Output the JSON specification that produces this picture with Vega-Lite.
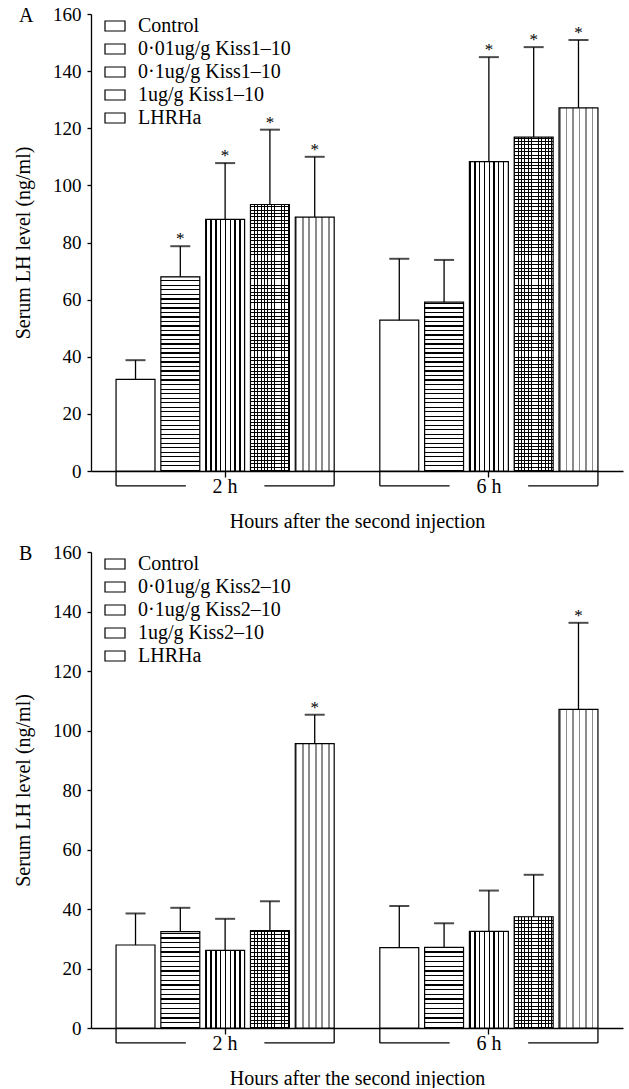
{
"$schema": "https://vega.github.io/schema/vega-lite/v6.json",
"padding": {"left": 13, "top": 5, "right": 5, "bottom": 0},
"params": [{"name": "stripes", "value": [
{"offset":0,"color":"#000"},{"offset":0.0028,"color":"#000"},{"offset":0.0028,"color":"transparent"},{"offset":0.01,"color":"transparent"},
{"offset":0.01,"color":"#000"},{"offset":0.0128,"color":"#000"},{"offset":0.0128,"color":"transparent"},{"offset":0.02,"color":"transparent"},
{"offset":0.02,"color":"#000"},{"offset":0.0228,"color":"#000"},{"offset":0.0228,"color":"transparent"},{"offset":0.03,"color":"transparent"},
{"offset":0.03,"color":"#000"},{"offset":0.0328,"color":"#000"},{"offset":0.0328,"color":"transparent"},{"offset":0.04,"color":"transparent"},
{"offset":0.04,"color":"#000"},{"offset":0.0428,"color":"#000"},{"offset":0.0428,"color":"transparent"},{"offset":0.05,"color":"transparent"},
{"offset":0.05,"color":"#000"},{"offset":0.0528,"color":"#000"},{"offset":0.0528,"color":"transparent"},{"offset":0.06,"color":"transparent"},
{"offset":0.06,"color":"#000"},{"offset":0.0628,"color":"#000"},{"offset":0.0628,"color":"transparent"},{"offset":0.07,"color":"transparent"},
{"offset":0.07,"color":"#000"},{"offset":0.0728,"color":"#000"},{"offset":0.0728,"color":"transparent"},{"offset":0.08,"color":"transparent"},
{"offset":0.08,"color":"#000"},{"offset":0.0828,"color":"#000"},{"offset":0.0828,"color":"transparent"},{"offset":0.09,"color":"transparent"},
{"offset":0.09,"color":"#000"},{"offset":0.0928,"color":"#000"},{"offset":0.0928,"color":"transparent"},{"offset":0.10,"color":"transparent"},
{"offset":0.10,"color":"#000"},{"offset":0.1028,"color":"#000"},{"offset":0.1028,"color":"transparent"},{"offset":0.11,"color":"transparent"},
{"offset":0.11,"color":"#000"},{"offset":0.1128,"color":"#000"},{"offset":0.1128,"color":"transparent"},{"offset":0.12,"color":"transparent"},
{"offset":0.12,"color":"#000"},{"offset":0.1228,"color":"#000"},{"offset":0.1228,"color":"transparent"},{"offset":0.13,"color":"transparent"},
{"offset":0.13,"color":"#000"},{"offset":0.1328,"color":"#000"},{"offset":0.1328,"color":"transparent"},{"offset":0.14,"color":"transparent"},
{"offset":0.14,"color":"#000"},{"offset":0.1428,"color":"#000"},{"offset":0.1428,"color":"transparent"},{"offset":0.15,"color":"transparent"},
{"offset":0.15,"color":"#000"},{"offset":0.1528,"color":"#000"},{"offset":0.1528,"color":"transparent"},{"offset":0.16,"color":"transparent"},
{"offset":0.16,"color":"#000"},{"offset":0.1628,"color":"#000"},{"offset":0.1628,"color":"transparent"},{"offset":0.17,"color":"transparent"},
{"offset":0.17,"color":"#000"},{"offset":0.1728,"color":"#000"},{"offset":0.1728,"color":"transparent"},{"offset":0.18,"color":"transparent"},
{"offset":0.18,"color":"#000"},{"offset":0.1828,"color":"#000"},{"offset":0.1828,"color":"transparent"},{"offset":0.19,"color":"transparent"},
{"offset":0.19,"color":"#000"},{"offset":0.1928,"color":"#000"},{"offset":0.1928,"color":"transparent"},{"offset":0.20,"color":"transparent"},
{"offset":0.20,"color":"#000"},{"offset":0.2028,"color":"#000"},{"offset":0.2028,"color":"transparent"},{"offset":0.21,"color":"transparent"},
{"offset":0.21,"color":"#000"},{"offset":0.2128,"color":"#000"},{"offset":0.2128,"color":"transparent"},{"offset":0.22,"color":"transparent"},
{"offset":0.22,"color":"#000"},{"offset":0.2228,"color":"#000"},{"offset":0.2228,"color":"transparent"},{"offset":0.23,"color":"transparent"},
{"offset":0.23,"color":"#000"},{"offset":0.2328,"color":"#000"},{"offset":0.2328,"color":"transparent"},{"offset":0.24,"color":"transparent"},
{"offset":0.24,"color":"#000"},{"offset":0.2428,"color":"#000"},{"offset":0.2428,"color":"transparent"},{"offset":0.25,"color":"transparent"},
{"offset":0.25,"color":"#000"},{"offset":0.2528,"color":"#000"},{"offset":0.2528,"color":"transparent"},{"offset":0.26,"color":"transparent"},
{"offset":0.26,"color":"#000"},{"offset":0.2628,"color":"#000"},{"offset":0.2628,"color":"transparent"},{"offset":0.27,"color":"transparent"},
{"offset":0.27,"color":"#000"},{"offset":0.2728,"color":"#000"},{"offset":0.2728,"color":"transparent"},{"offset":0.28,"color":"transparent"},
{"offset":0.28,"color":"#000"},{"offset":0.2828,"color":"#000"},{"offset":0.2828,"color":"transparent"},{"offset":0.29,"color":"transparent"},
{"offset":0.29,"color":"#000"},{"offset":0.2928,"color":"#000"},{"offset":0.2928,"color":"transparent"},{"offset":0.30,"color":"transparent"},
{"offset":0.30,"color":"#000"},{"offset":0.3028,"color":"#000"},{"offset":0.3028,"color":"transparent"},{"offset":0.31,"color":"transparent"},
{"offset":0.31,"color":"#000"},{"offset":0.3128,"color":"#000"},{"offset":0.3128,"color":"transparent"},{"offset":0.32,"color":"transparent"},
{"offset":0.32,"color":"#000"},{"offset":0.3228,"color":"#000"},{"offset":0.3228,"color":"transparent"},{"offset":0.33,"color":"transparent"},
{"offset":0.33,"color":"#000"},{"offset":0.3328,"color":"#000"},{"offset":0.3328,"color":"transparent"},{"offset":0.34,"color":"transparent"},
{"offset":0.34,"color":"#000"},{"offset":0.3428,"color":"#000"},{"offset":0.3428,"color":"transparent"},{"offset":0.35,"color":"transparent"},
{"offset":0.35,"color":"#000"},{"offset":0.3528,"color":"#000"},{"offset":0.3528,"color":"transparent"},{"offset":0.36,"color":"transparent"},
{"offset":0.36,"color":"#000"},{"offset":0.3628,"color":"#000"},{"offset":0.3628,"color":"transparent"},{"offset":0.37,"color":"transparent"},
{"offset":0.37,"color":"#000"},{"offset":0.3728,"color":"#000"},{"offset":0.3728,"color":"transparent"},{"offset":0.38,"color":"transparent"},
{"offset":0.38,"color":"#000"},{"offset":0.3828,"color":"#000"},{"offset":0.3828,"color":"transparent"},{"offset":0.39,"color":"transparent"},
{"offset":0.39,"color":"#000"},{"offset":0.3928,"color":"#000"},{"offset":0.3928,"color":"transparent"},{"offset":0.40,"color":"transparent"},
{"offset":0.40,"color":"#000"},{"offset":0.4028,"color":"#000"},{"offset":0.4028,"color":"transparent"},{"offset":0.41,"color":"transparent"},
{"offset":0.41,"color":"#000"},{"offset":0.4128,"color":"#000"},{"offset":0.4128,"color":"transparent"},{"offset":0.42,"color":"transparent"},
{"offset":0.42,"color":"#000"},{"offset":0.4228,"color":"#000"},{"offset":0.4228,"color":"transparent"},{"offset":0.43,"color":"transparent"},
{"offset":0.43,"color":"#000"},{"offset":0.4328,"color":"#000"},{"offset":0.4328,"color":"transparent"},{"offset":0.44,"color":"transparent"},
{"offset":0.44,"color":"#000"},{"offset":0.4428,"color":"#000"},{"offset":0.4428,"color":"transparent"},{"offset":0.45,"color":"transparent"},
{"offset":0.45,"color":"#000"},{"offset":0.4528,"color":"#000"},{"offset":0.4528,"color":"transparent"},{"offset":0.46,"color":"transparent"},
{"offset":0.46,"color":"#000"},{"offset":0.4628,"color":"#000"},{"offset":0.4628,"color":"transparent"},{"offset":0.47,"color":"transparent"},
{"offset":0.47,"color":"#000"},{"offset":0.4728,"color":"#000"},{"offset":0.4728,"color":"transparent"},{"offset":0.48,"color":"transparent"},
{"offset":0.48,"color":"#000"},{"offset":0.4828,"color":"#000"},{"offset":0.4828,"color":"transparent"},{"offset":0.49,"color":"transparent"},
{"offset":0.49,"color":"#000"},{"offset":0.4928,"color":"#000"},{"offset":0.4928,"color":"transparent"},{"offset":0.50,"color":"transparent"},
{"offset":0.50,"color":"#000"},{"offset":0.5028,"color":"#000"},{"offset":0.5028,"color":"transparent"},{"offset":0.51,"color":"transparent"},
{"offset":0.51,"color":"#000"},{"offset":0.5128,"color":"#000"},{"offset":0.5128,"color":"transparent"},{"offset":0.52,"color":"transparent"},
{"offset":0.52,"color":"#000"},{"offset":0.5228,"color":"#000"},{"offset":0.5228,"color":"transparent"},{"offset":0.53,"color":"transparent"},
{"offset":0.53,"color":"#000"},{"offset":0.5328,"color":"#000"},{"offset":0.5328,"color":"transparent"},{"offset":0.54,"color":"transparent"},
{"offset":0.54,"color":"#000"},{"offset":0.5428,"color":"#000"},{"offset":0.5428,"color":"transparent"},{"offset":0.55,"color":"transparent"},
{"offset":0.55,"color":"#000"},{"offset":0.5528,"color":"#000"},{"offset":0.5528,"color":"transparent"},{"offset":0.56,"color":"transparent"},
{"offset":0.56,"color":"#000"},{"offset":0.5628,"color":"#000"},{"offset":0.5628,"color":"transparent"},{"offset":0.57,"color":"transparent"},
{"offset":0.57,"color":"#000"},{"offset":0.5728,"color":"#000"},{"offset":0.5728,"color":"transparent"},{"offset":0.58,"color":"transparent"},
{"offset":0.58,"color":"#000"},{"offset":0.5828,"color":"#000"},{"offset":0.5828,"color":"transparent"},{"offset":0.59,"color":"transparent"},
{"offset":0.59,"color":"#000"},{"offset":0.5928,"color":"#000"},{"offset":0.5928,"color":"transparent"},{"offset":0.60,"color":"transparent"},
{"offset":0.60,"color":"#000"},{"offset":0.6028,"color":"#000"},{"offset":0.6028,"color":"transparent"},{"offset":0.61,"color":"transparent"},
{"offset":0.61,"color":"#000"},{"offset":0.6128,"color":"#000"},{"offset":0.6128,"color":"transparent"},{"offset":0.62,"color":"transparent"},
{"offset":0.62,"color":"#000"},{"offset":0.6228,"color":"#000"},{"offset":0.6228,"color":"transparent"},{"offset":0.63,"color":"transparent"},
{"offset":0.63,"color":"#000"},{"offset":0.6328,"color":"#000"},{"offset":0.6328,"color":"transparent"},{"offset":0.64,"color":"transparent"},
{"offset":0.64,"color":"#000"},{"offset":0.6428,"color":"#000"},{"offset":0.6428,"color":"transparent"},{"offset":0.65,"color":"transparent"},
{"offset":0.65,"color":"#000"},{"offset":0.6528,"color":"#000"},{"offset":0.6528,"color":"transparent"},{"offset":0.66,"color":"transparent"},
{"offset":0.66,"color":"#000"},{"offset":0.6628,"color":"#000"},{"offset":0.6628,"color":"transparent"},{"offset":0.67,"color":"transparent"},
{"offset":0.67,"color":"#000"},{"offset":0.6728,"color":"#000"},{"offset":0.6728,"color":"transparent"},{"offset":0.68,"color":"transparent"},
{"offset":0.68,"color":"#000"},{"offset":0.6828,"color":"#000"},{"offset":0.6828,"color":"transparent"},{"offset":0.69,"color":"transparent"},
{"offset":0.69,"color":"#000"},{"offset":0.6928,"color":"#000"},{"offset":0.6928,"color":"transparent"},{"offset":0.70,"color":"transparent"},
{"offset":0.70,"color":"#000"},{"offset":0.7028,"color":"#000"},{"offset":0.7028,"color":"transparent"},{"offset":0.71,"color":"transparent"},
{"offset":0.71,"color":"#000"},{"offset":0.7128,"color":"#000"},{"offset":0.7128,"color":"transparent"},{"offset":0.72,"color":"transparent"},
{"offset":0.72,"color":"#000"},{"offset":0.7228,"color":"#000"},{"offset":0.7228,"color":"transparent"},{"offset":0.73,"color":"transparent"},
{"offset":0.73,"color":"#000"},{"offset":0.7328,"color":"#000"},{"offset":0.7328,"color":"transparent"},{"offset":0.74,"color":"transparent"},
{"offset":0.74,"color":"#000"},{"offset":0.7428,"color":"#000"},{"offset":0.7428,"color":"transparent"},{"offset":0.75,"color":"transparent"},
{"offset":0.75,"color":"#000"},{"offset":0.7528,"color":"#000"},{"offset":0.7528,"color":"transparent"},{"offset":0.76,"color":"transparent"},
{"offset":0.76,"color":"#000"},{"offset":0.7628,"color":"#000"},{"offset":0.7628,"color":"transparent"},{"offset":0.77,"color":"transparent"},
{"offset":0.77,"color":"#000"},{"offset":0.7728,"color":"#000"},{"offset":0.7728,"color":"transparent"},{"offset":0.78,"color":"transparent"},
{"offset":0.78,"color":"#000"},{"offset":0.7828,"color":"#000"},{"offset":0.7828,"color":"transparent"},{"offset":0.79,"color":"transparent"},
{"offset":0.79,"color":"#000"},{"offset":0.7928,"color":"#000"},{"offset":0.7928,"color":"transparent"},{"offset":0.80,"color":"transparent"},
{"offset":0.80,"color":"#000"},{"offset":0.8028,"color":"#000"},{"offset":0.8028,"color":"transparent"},{"offset":0.81,"color":"transparent"},
{"offset":0.81,"color":"#000"},{"offset":0.8128,"color":"#000"},{"offset":0.8128,"color":"transparent"},{"offset":0.82,"color":"transparent"},
{"offset":0.82,"color":"#000"},{"offset":0.8228,"color":"#000"},{"offset":0.8228,"color":"transparent"},{"offset":0.83,"color":"transparent"},
{"offset":0.83,"color":"#000"},{"offset":0.8328,"color":"#000"},{"offset":0.8328,"color":"transparent"},{"offset":0.84,"color":"transparent"},
{"offset":0.84,"color":"#000"},{"offset":0.8428,"color":"#000"},{"offset":0.8428,"color":"transparent"},{"offset":0.85,"color":"transparent"},
{"offset":0.85,"color":"#000"},{"offset":0.8528,"color":"#000"},{"offset":0.8528,"color":"transparent"},{"offset":0.86,"color":"transparent"},
{"offset":0.86,"color":"#000"},{"offset":0.8628,"color":"#000"},{"offset":0.8628,"color":"transparent"},{"offset":0.87,"color":"transparent"},
{"offset":0.87,"color":"#000"},{"offset":0.8728,"color":"#000"},{"offset":0.8728,"color":"transparent"},{"offset":0.88,"color":"transparent"},
{"offset":0.88,"color":"#000"},{"offset":0.8828,"color":"#000"},{"offset":0.8828,"color":"transparent"},{"offset":0.89,"color":"transparent"},
{"offset":0.89,"color":"#000"},{"offset":0.8928,"color":"#000"},{"offset":0.8928,"color":"transparent"},{"offset":0.90,"color":"transparent"},
{"offset":0.90,"color":"#000"},{"offset":0.9028,"color":"#000"},{"offset":0.9028,"color":"transparent"},{"offset":0.91,"color":"transparent"},
{"offset":0.91,"color":"#000"},{"offset":0.9128,"color":"#000"},{"offset":0.9128,"color":"transparent"},{"offset":0.92,"color":"transparent"},
{"offset":0.92,"color":"#000"},{"offset":0.9228,"color":"#000"},{"offset":0.9228,"color":"transparent"},{"offset":0.93,"color":"transparent"},
{"offset":0.93,"color":"#000"},{"offset":0.9328,"color":"#000"},{"offset":0.9328,"color":"transparent"},{"offset":0.94,"color":"transparent"},
{"offset":0.94,"color":"#000"},{"offset":0.9428,"color":"#000"},{"offset":0.9428,"color":"transparent"},{"offset":0.95,"color":"transparent"},
{"offset":0.95,"color":"#000"},{"offset":0.9528,"color":"#000"},{"offset":0.9528,"color":"transparent"},{"offset":0.96,"color":"transparent"},
{"offset":0.96,"color":"#000"},{"offset":0.9628,"color":"#000"},{"offset":0.9628,"color":"transparent"},{"offset":0.97,"color":"transparent"},
{"offset":0.97,"color":"#000"},{"offset":0.9728,"color":"#000"},{"offset":0.9728,"color":"transparent"},{"offset":0.98,"color":"transparent"},
{"offset":0.98,"color":"#000"},{"offset":0.9828,"color":"#000"},{"offset":0.9828,"color":"transparent"},{"offset":0.99,"color":"transparent"},
{"offset":0.99,"color":"#000"},{"offset":0.9928,"color":"#000"},{"offset":0.9928,"color":"transparent"},{"offset":1,"color":"transparent"}
]}],
"config": {
  "font": "Liberation Serif",
  "view": {"stroke": null},
  "axis": {"domainColor": "black", "domainWidth": 1.3, "tickColor": "black", "tickWidth": 1.3, "labelColor": "black", "titleColor": "black", "labelFont": "Liberation Serif", "titleFont": "Liberation Serif", "titleFontWeight": "normal", "grid": false},
  "legend": {"labelFont": "Liberation Serif", "labelColor": "black"},
  "title": {"font": "Liberation Serif", "fontWeight": "normal", "color": "black"}
},
"resolve": {"scale": {"stroke": "independent"}, "legend": {"stroke": "independent"}},
"spacing": 12,
"vconcat": [
{
  "width": 532, "height": 457,
  "title": {"text": "A", "anchor": "start", "frame": "group", "dx": -72, "offset": -21, "fontSize": 20},
  "data": {"values": [
    {"time": "2 h", "trt": "Control", "mean": 32.1, "upper": 38.8, "sig": false},
    {"time": "2 h", "trt": "0.01", "mean": 68.0, "upper": 78.7, "sig": true},
    {"time": "2 h", "trt": "0.1", "mean": 88.1, "upper": 107.8, "sig": true},
    {"time": "2 h", "trt": "1", "mean": 93.3, "upper": 119.5, "sig": true},
    {"time": "2 h", "trt": "LHRHa", "mean": 88.9, "upper": 110.0, "sig": true},
    {"time": "6 h", "trt": "Control", "mean": 52.8, "upper": 74.3, "sig": false},
    {"time": "6 h", "trt": "0.01", "mean": 59.1, "upper": 73.9, "sig": false},
    {"time": "6 h", "trt": "0.1", "mean": 108.3, "upper": 144.9, "sig": true},
    {"time": "6 h", "trt": "1", "mean": 116.9, "upper": 148.4, "sig": true},
    {"time": "6 h", "trt": "LHRHa", "mean": 127.1, "upper": 150.9, "sig": true}
  ]},
  "encoding": {
    "x": {"field": "time", "type": "nominal", "title": "Hours after the second injection",
          "scale": {"paddingInner": 0.173, "paddingOuter": 0.095},
          "axis": {"labelAngle": 0, "tickSize": 6, "labelPadding": -1, "labelFontSize": 20, "titleFontSize": 20, "titlePadding": 15}},
    "y": {"field": "mean", "type": "quantitative", "title": "Serum LH level (ng/ml)",
          "scale": {"domain": [0, 160], "nice": false},
          "axis": {"values": [0, 20, 40, 60, 80, 100, 120, 140, 160], "tickSize": 4, "labelPadding": 6, "labelFontSize": 19, "titleFontSize": 20, "titlePadding": 19}}
  },
  "layer": [
    {
      "encoding": {"xOffset": {"field": "trt", "type": "nominal", "scale": {"domain": ["Control", "0.01", "0.1", "1", "LHRHa"], "paddingInner": 0.131, "paddingOuter": 0}}},
      "layer": [
        {"mark": {"type": "bar", "fill": "white"}},
        {"mark": {"type": "bar", "fill": {"expr": "datum.trt==='0.01' ? {gradient:'linear',x1:0.5,x2:0.5,y1:1,y2:1-158/datum.mean,stops:stripes} : datum.trt==='1' ? {gradient:'linear',x1:0.5,x2:0.5,y1:1,y2:1-120/datum.mean,stops:stripes} : 'transparent'"}}},
        {"mark": {"type": "bar", "fill": {"expr": "datum.trt==='0.1' ? {gradient:'linear',x1:0,x2:12.3,y1:0.5,y2:0.5,stops:stripes} : datum.trt==='1' ? {gradient:'linear',x1:0,x2:8.7,y1:0.5,y2:0.5,stops:stripes} : datum.trt==='LHRHa' ? {gradient:'linear',x1:0,x2:16.7,y1:0.5,y2:0.5,stops:stripes} : 'transparent'"}, "fillOpacity": {"expr": "datum.trt==='LHRHa' ? 0.45 : 1"}}},
        {"mark": {"type": "bar", "fill": "transparent", "strokeWidth": 1.2},
         "encoding": {"stroke": {"field": "trt", "type": "nominal",
           "scale": {"domain": ["Control", "0.01", "0.1", "1", "LHRHa"], "range": ["black", "black", "black", "black", "black"]},
           "legend": {"title": null, "orient": "none", "legendX": 13, "legendY": 1, "symbolType": "M-1,-0.5H1V0.5H-1Z", "symbolSize": 400, "symbolStrokeWidth": 1.2, "symbolStrokeColor": "black", "labelFontSize": 20, "labelOffset": 12, "rowPadding": 2,
             "labelExpr": "datum.value==='0.01' ? '0·01ug/g Kiss1–10' : datum.value==='0.1' ? '0·1ug/g Kiss1–10' : datum.value==='1' ? '1ug/g Kiss1–10' : datum.value",
             "encode": {"symbols": {"update": {
               "fill": {"signal": "datum.value==='0.01' ? {gradient:'linear',x1:0.5,x2:0.5,y1:0,y2:25,stops:stripes} : datum.value==='0.1' ? {gradient:'linear',x1:0,x2:16,y1:0.5,y2:0.5,stops:stripes} : datum.value==='1' ? {gradient:'linear',x1:0,x2:10,y1:0.5,y2:0.5,stops:stripes} : datum.value==='LHRHa' ? {gradient:'linear',x1:0,x2:18,y1:0.5,y2:0.5,stops:stripes} : 'white'"},
               "fillOpacity": {"signal": "datum.value==='LHRHa' ? 0.45 : 1"},
               "stroke": {"value": "black"}}}}}}}},
        {"mark": {"type": "rule", "color": "black", "strokeWidth": 1.3}, "encoding": {"y2": {"field": "upper"}}},
        {"mark": {"type": "tick", "orient": "horizontal", "size": 20, "thickness": 2, "color": "black"},
         "encoding": {"y": {"field": "upper", "type": "quantitative", "title": "Serum LH level (ng/ml)"}}},
        {"transform": [{"filter": "datum.sig"}],
         "mark": {"type": "text", "text": "*", "baseline": "alphabetic", "dy": -2, "fontSize": 17, "color": "black"},
         "encoding": {"y": {"field": "upper", "type": "quantitative", "title": "Serum LH level (ng/ml)"}}}
      ]
    },
    {
      "transform": [{"filter": "datum.trt === 'Control'"}],
      "layer": [
        {"mark": {"type": "rule", "color": "black", "strokeWidth": 1.3, "clip": false},
         "encoding": {"x": {"field": "time", "type": "nominal", "bandPosition": 0}, "y": {"datum": 0, "type": "quantitative"}, "y2": {"datum": -5.2}}},
        {"mark": {"type": "rule", "color": "black", "strokeWidth": 1.3, "clip": false},
         "encoding": {"x": {"field": "time", "type": "nominal", "bandPosition": 1}, "y": {"datum": 0, "type": "quantitative"}, "y2": {"datum": -5.2}}},
        {"mark": {"type": "rule", "color": "black", "strokeWidth": 1.3, "clip": false},
         "encoding": {"x": {"field": "time", "type": "nominal", "bandPosition": 0}, "x2": {"field": "time", "bandPosition": 0.32}, "y": {"datum": -5.2, "type": "quantitative"}}},
        {"mark": {"type": "rule", "color": "black", "strokeWidth": 1.3, "clip": false},
         "encoding": {"x": {"field": "time", "type": "nominal", "bandPosition": 0.68}, "x2": {"field": "time", "bandPosition": 1}, "y": {"datum": -5.2, "type": "quantitative"}}}
      ]
    }
  ]
},
{
  "width": 532, "height": 476,
  "title": {"text": "B", "anchor": "start", "frame": "group", "dx": -72, "offset": -21, "fontSize": 20},
  "data": {"values": [
    {"time": "2 h", "trt": "Control", "mean": 27.9, "upper": 38.5, "sig": false},
    {"time": "2 h", "trt": "0.01", "mean": 32.4, "upper": 40.4, "sig": false},
    {"time": "2 h", "trt": "0.1", "mean": 26.1, "upper": 36.7, "sig": false},
    {"time": "2 h", "trt": "1", "mean": 32.7, "upper": 42.6, "sig": false},
    {"time": "2 h", "trt": "LHRHa", "mean": 95.6, "upper": 105.3, "sig": true},
    {"time": "6 h", "trt": "Control", "mean": 27.0, "upper": 41.0, "sig": false},
    {"time": "6 h", "trt": "0.01", "mean": 27.1, "upper": 35.2, "sig": false},
    {"time": "6 h", "trt": "0.1", "mean": 32.5, "upper": 46.2, "sig": false},
    {"time": "6 h", "trt": "1", "mean": 37.4, "upper": 51.5, "sig": false},
    {"time": "6 h", "trt": "LHRHa", "mean": 107.1, "upper": 136.2, "sig": true}
  ]},
  "encoding": {
    "x": {"field": "time", "type": "nominal", "title": "Hours after the second injection",
          "scale": {"paddingInner": 0.173, "paddingOuter": 0.095},
          "axis": {"labelAngle": 0, "tickSize": 6, "labelPadding": -1, "labelFontSize": 20, "titleFontSize": 20, "titlePadding": 15}},
    "y": {"field": "mean", "type": "quantitative", "title": "Serum LH level (ng/ml)",
          "scale": {"domain": [0, 160], "nice": false},
          "axis": {"values": [0, 20, 40, 60, 80, 100, 120, 140, 160], "tickSize": 4, "labelPadding": 6, "labelFontSize": 19, "titleFontSize": 20, "titlePadding": 19}}
  },
  "layer": [
    {
      "encoding": {"xOffset": {"field": "trt", "type": "nominal", "scale": {"domain": ["Control", "0.01", "0.1", "1", "LHRHa"], "paddingInner": 0.131, "paddingOuter": 0}}},
      "layer": [
        {"mark": {"type": "bar", "fill": "white"}},
        {"mark": {"type": "bar", "fill": {"expr": "datum.trt==='0.01' ? {gradient:'linear',x1:0.5,x2:0.5,y1:1,y2:1-158/datum.mean,stops:stripes} : datum.trt==='1' ? {gradient:'linear',x1:0.5,x2:0.5,y1:1,y2:1-120/datum.mean,stops:stripes} : 'transparent'"}}},
        {"mark": {"type": "bar", "fill": {"expr": "datum.trt==='0.1' ? {gradient:'linear',x1:0,x2:12.3,y1:0.5,y2:0.5,stops:stripes} : datum.trt==='1' ? {gradient:'linear',x1:0,x2:8.7,y1:0.5,y2:0.5,stops:stripes} : datum.trt==='LHRHa' ? {gradient:'linear',x1:0,x2:16.7,y1:0.5,y2:0.5,stops:stripes} : 'transparent'"}, "fillOpacity": {"expr": "datum.trt==='LHRHa' ? 0.45 : 1"}}},
        {"mark": {"type": "bar", "fill": "transparent", "strokeWidth": 1.2},
         "encoding": {"stroke": {"field": "trt", "type": "nominal",
           "scale": {"domain": ["Control", "0.01", "0.1", "1", "LHRHa"], "range": ["black", "black", "black", "black", "black"]},
           "legend": {"title": null, "orient": "none", "legendX": 13, "legendY": 1, "symbolType": "M-1,-0.5H1V0.5H-1Z", "symbolSize": 400, "symbolStrokeWidth": 1.2, "symbolStrokeColor": "black", "labelFontSize": 20, "labelOffset": 12, "rowPadding": 2,
             "labelExpr": "datum.value==='0.01' ? '0·01ug/g Kiss2–10' : datum.value==='0.1' ? '0·1ug/g Kiss2–10' : datum.value==='1' ? '1ug/g Kiss2–10' : datum.value",
             "encode": {"symbols": {"update": {
               "fill": {"signal": "datum.value==='0.01' ? {gradient:'linear',x1:0.5,x2:0.5,y1:0,y2:25,stops:stripes} : datum.value==='0.1' ? {gradient:'linear',x1:0,x2:16,y1:0.5,y2:0.5,stops:stripes} : datum.value==='1' ? {gradient:'linear',x1:0,x2:10,y1:0.5,y2:0.5,stops:stripes} : datum.value==='LHRHa' ? {gradient:'linear',x1:0,x2:18,y1:0.5,y2:0.5,stops:stripes} : 'white'"},
               "fillOpacity": {"signal": "datum.value==='LHRHa' ? 0.45 : 1"},
               "stroke": {"value": "black"}}}}}}}},
        {"mark": {"type": "rule", "color": "black", "strokeWidth": 1.3}, "encoding": {"y2": {"field": "upper"}}},
        {"mark": {"type": "tick", "orient": "horizontal", "size": 20, "thickness": 2, "color": "black"},
         "encoding": {"y": {"field": "upper", "type": "quantitative", "title": "Serum LH level (ng/ml)"}}},
        {"transform": [{"filter": "datum.sig"}],
         "mark": {"type": "text", "text": "*", "baseline": "alphabetic", "dy": -2, "fontSize": 17, "color": "black"},
         "encoding": {"y": {"field": "upper", "type": "quantitative", "title": "Serum LH level (ng/ml)"}}}
      ]
    },
    {
      "transform": [{"filter": "datum.trt === 'Control'"}],
      "layer": [
        {"mark": {"type": "rule", "color": "black", "strokeWidth": 1.3, "clip": false},
         "encoding": {"x": {"field": "time", "type": "nominal", "bandPosition": 0}, "y": {"datum": 0, "type": "quantitative"}, "y2": {"datum": -5.0}}},
        {"mark": {"type": "rule", "color": "black", "strokeWidth": 1.3, "clip": false},
         "encoding": {"x": {"field": "time", "type": "nominal", "bandPosition": 1}, "y": {"datum": 0, "type": "quantitative"}, "y2": {"datum": -5.0}}},
        {"mark": {"type": "rule", "color": "black", "strokeWidth": 1.3, "clip": false},
         "encoding": {"x": {"field": "time", "type": "nominal", "bandPosition": 0}, "x2": {"field": "time", "bandPosition": 0.32}, "y": {"datum": -5.0, "type": "quantitative"}}},
        {"mark": {"type": "rule", "color": "black", "strokeWidth": 1.3, "clip": false},
         "encoding": {"x": {"field": "time", "type": "nominal", "bandPosition": 0.68}, "x2": {"field": "time", "bandPosition": 1}, "y": {"datum": -5.0, "type": "quantitative"}}}
      ]
    }
  ]
}
]
}
